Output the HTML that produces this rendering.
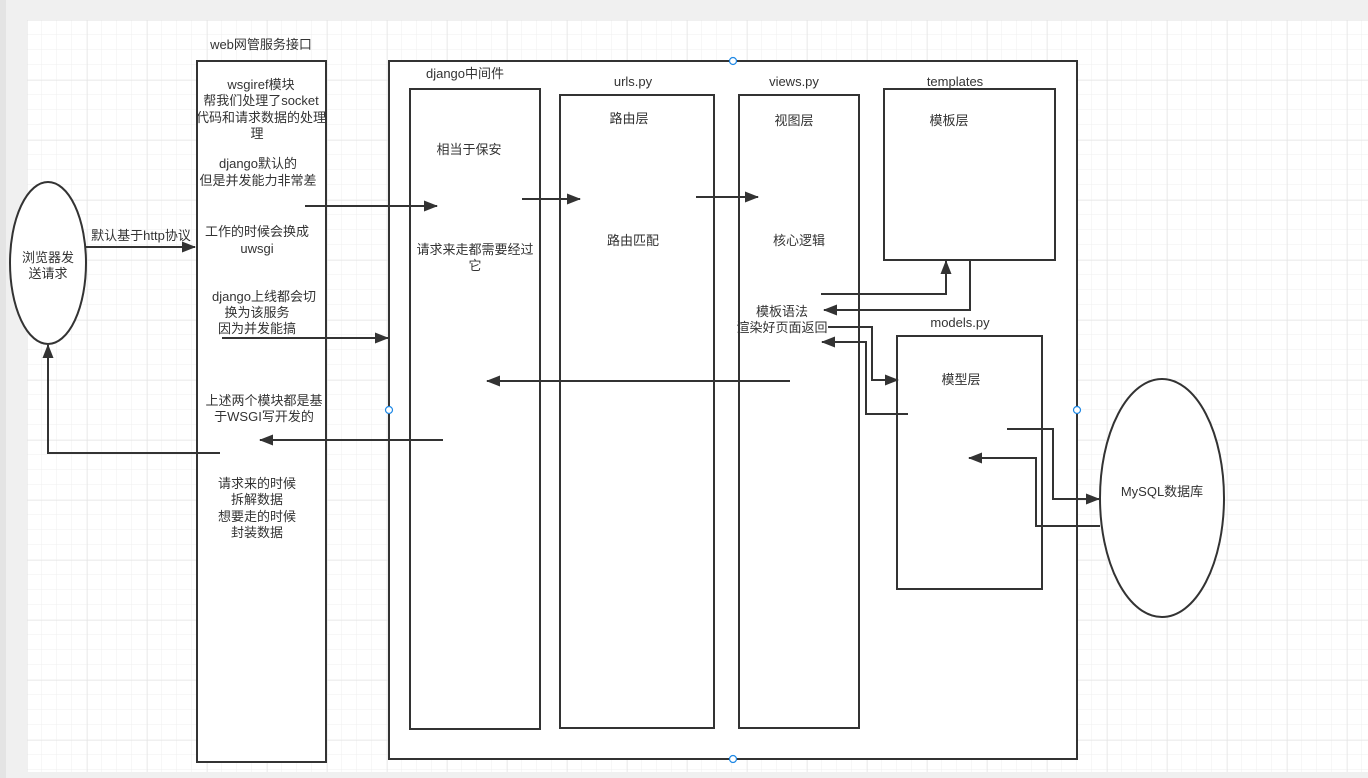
<!DOCTYPE html>
<html><head><meta charset="utf-8"><style>
html,body{margin:0;padding:0;width:1368px;height:778px;overflow:hidden;background:#f0f0f0}
svg{display:block}
text{font-family:"Liberation Sans","Noto Sans CJK SC",sans-serif;font-size:13px;fill:#333;text-anchor:middle}
</style></head><body>
<svg width="1368" height="778" viewBox="0 0 1368 778" xmlns="http://www.w3.org/2000/svg">
<defs>
<pattern id="minor" x="27" y="20" width="15" height="15" patternUnits="userSpaceOnUse">
<path d="M15 0V15M0 15H15" fill="none" stroke="#efefef" stroke-width="1"/>
</pattern>
<pattern id="major" x="27" y="20" width="60" height="60" patternUnits="userSpaceOnUse">
<path d="M0 0V60M0 0H60" fill="none" stroke="#e2e2e2" stroke-width="1"/>
</pattern>
<marker id="a" markerWidth="14" markerHeight="11" refX="13" refY="5.5" orient="auto" markerUnits="userSpaceOnUse">
<path d="M0,0 L14,5.5 L0,11 Z" fill="#333"/>
</marker>
</defs>
<rect x="0" y="0" width="6" height="778" fill="#e4e4e4"/>
<rect x="27" y="20" width="1341" height="752" fill="#fff"/>
<rect x="27" y="20" width="1341" height="752" fill="url(#minor)"/>
<rect x="27" y="20" width="1341" height="752" fill="url(#major)"/>
<g stroke="#333" stroke-width="2" fill="#fff">
<ellipse cx="48" cy="263" rx="38" ry="81"/>
<rect x="197" y="61" width="129" height="701"/>
<rect x="389" y="61" width="688" height="698"/>
<rect x="410" y="89" width="130" height="640"/>
<rect x="560" y="95" width="154" height="633"/>
<rect x="739" y="95" width="120" height="633"/>
<rect x="884" y="89" width="171" height="171"/>
<rect x="897" y="336" width="145" height="253"/>
<ellipse cx="1162" cy="498" rx="62" ry="119"/>
</g>
<g stroke="#333" stroke-width="2" fill="none">
<path d="M86 247H195" marker-end="url(#a)"/>
<path d="M220 453H48V345" marker-end="url(#a)"/>
<path d="M305 206H437" marker-end="url(#a)"/>
<path d="M222 338H388" marker-end="url(#a)"/>
<path d="M443 440H260" marker-end="url(#a)"/>
<path d="M522 199H580" marker-end="url(#a)"/>
<path d="M696 197H758" marker-end="url(#a)"/>
<path d="M821 294H946V261" marker-end="url(#a)"/>
<path d="M970 261V310H824" marker-end="url(#a)"/>
<path d="M828 327H872V380H898" marker-end="url(#a)"/>
<path d="M908 414H866V342H822" marker-end="url(#a)"/>
<path d="M790 381H487" marker-end="url(#a)"/>
<path d="M1007 429H1053V499H1099" marker-end="url(#a)"/>
<path d="M1100 526H1036V458H969" marker-end="url(#a)"/>
</g>
<g fill="#fff" stroke="#1e88e5" stroke-width="1.2">
<circle cx="733" cy="61" r="3.5"/><circle cx="389" cy="410" r="3.5"/>
<circle cx="1077" cy="410" r="3.5"/><circle cx="733" cy="759" r="3.5"/>
</g>
<text x="48" y="262">浏览器发</text><text x="48" y="278">送请求</text>
<text x="141" y="240">默认基于http协议</text>
<text x="261" y="49">web网管服务接口</text>
<text x="261" y="89">wsgiref模块</text>
<text x="261" y="105">帮我们处理了socket</text>
<text x="261" y="122">代码和请求数据的处理</text>
<text x="257" y="138">理</text>
<text x="258" y="168">django默认的</text>
<text x="258" y="185">但是并发能力非常差</text>
<text x="257" y="236">工作的时候会换成</text>
<text x="257" y="253">uwsgi</text>
<text x="264" y="301">django上线都会切</text>
<text x="257" y="317">换为该服务</text>
<text x="257" y="333">因为并发能搞</text>
<text x="264" y="405">上述两个模块都是基</text>
<text x="264" y="421">于WSGI写开发的</text>
<text x="257" y="488">请求来的时候</text>
<text x="257" y="504">拆解数据</text>
<text x="257" y="521">想要走的时候</text>
<text x="257" y="537">封装数据</text>
<text x="465" y="78">django中间件</text>
<text x="469" y="154">相当于保安</text>
<text x="475" y="254">请求来走都需要经过</text>
<text x="475" y="270">它</text>
<text x="633" y="86">urls.py</text>
<text x="629" y="123">路由层</text>
<text x="633" y="245">路由匹配</text>
<text x="794" y="86">views.py</text>
<text x="794" y="125">视图层</text>
<text x="799" y="245">核心逻辑</text>
<text x="782" y="316">模板语法</text>
<text x="782" y="332">渲染好页面返回</text>
<text x="955" y="86">templates</text>
<text x="949" y="125">模板层</text>
<text x="960" y="327">models.py</text>
<text x="961" y="384">模型层</text>
<text x="1162" y="496">MySQL数据库</text>
</svg>
</body></html>
